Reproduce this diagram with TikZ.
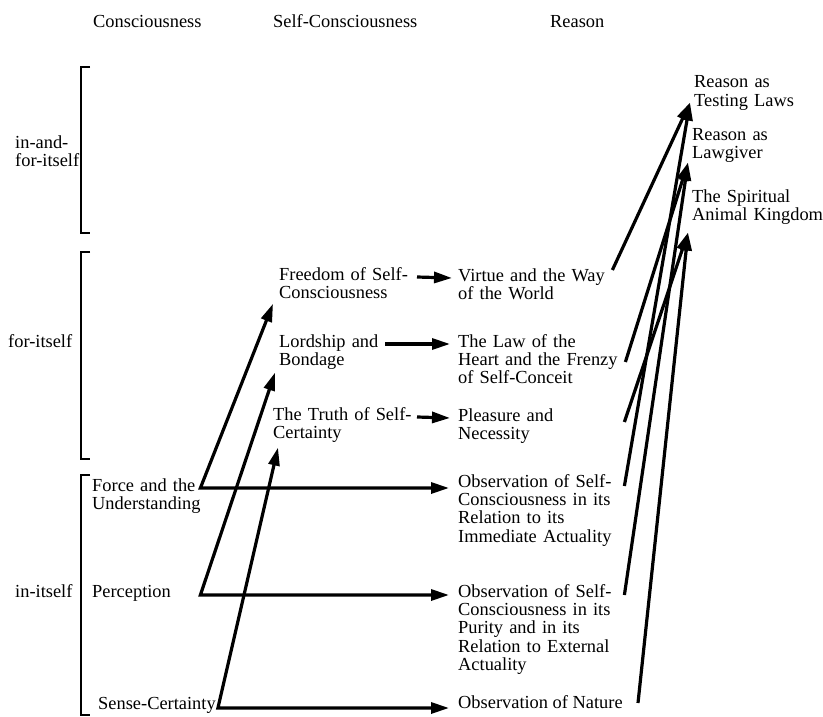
\documentclass[tikz,border=0pt]{standalone}
\usepackage{fontspec}
\setmainfont{Liberation Serif}
\usetikzlibrary{arrows.meta}
\tikzset{
  txt/.style={anchor=base west,inner sep=0pt,align=left,font=\fontsize{18.4}{18.4}\selectfont},
  arr/.style={line width=3.2pt,-{Triangle[length=18pt,width=11pt]}},
  twoarr/.style={line width=3.2pt,{Triangle[length=18pt,width=11pt]}-{Triangle[length=18pt,width=11pt]}},
  brk/.style={line width=2pt}
}
\begin{document}
\begin{tikzpicture}[x=1pt,y=-1pt]
\useasboundingbox (0,0) rectangle (823,717);
% column heads
\node[txt] (hcon) at (93,28) {Consciousness};
\node[txt] (hself) at (273,28) {Self-Consciousness};
\node[txt] (hreas) at (550,28) {Reason};
% brackets
\node[txt,text width=70pt] (inandfor) at (15,148) {in-and-\\for-itself};
\node[txt] (foritself) at (8,347) {for-itself};
\node[txt] (initself) at (15,597) {in-itself};
\draw[brk] (90,67) -- (81,67) -- (81,233) -- (90,233);
\draw[brk] (90,252) -- (81,252) -- (81,459) -- (90,459);
\draw[brk] (90,475) -- (81,475) -- (81,715) -- (90,715);
% consciousness
\node[txt,text width=108pt] (force) at (92,491) {Force and the\\Understanding};
\node[txt,text width=108pt] (perc) at (92,597) {Perception};
\node[txt] (sense) at (98,709) {Sense-Certainty};
% self-consciousness
\node[txt,text width=150pt] (freedom) at (279,280) {Freedom of Self-\\Consciousness};
\node[txt,text width=150pt] (lordship) at (279,347) {Lordship and\\Bondage};
\node[txt,text width=160pt] (truth) at (273,420) {The Truth of Self-\\Certainty};
% reason
\node[txt,text width=166pt] (virtue) at (458,281) {Virtue and the Way\\of the World};
\node[txt,text width=166pt] (law) at (458,347) {The Law of the\\Heart and the Frenzy\\of Self-Conceit};
\node[txt,text width=166pt] (pleasure) at (458,421) {Pleasure and\\Necessity};
\node[txt,text width=166pt] (obsimm) at (458,487) {Observation of Self-\\Consciousness in its\\Relation to its\\Immediate Actuality};
\node[txt,text width=166pt] (obspur) at (458,597) {Observation of Self-\\Consciousness in its\\Purity and in its\\Relation to External\\Actuality};
\node[txt] (obsnat) at (458,708) {Observation of Nature};
\node[txt,text width=150pt] (testing) at (694,88) {Reason as\\Testing Laws};
\node[txt,text width=150pt] (lawgiver) at (692,140) {Reason as\\Lawgiver};
\node[txt,text width=150pt] (spiritual) at (692,202) {The Spiritual\\Animal Kingdom};
% corners
\coordinate (fc) at ([yshift=3pt]force.base east);
\coordinate (pc) at ([yshift=2pt]perc.base east);
\coordinate (sc) at ([xshift=2pt,yshift=1pt]sense.base east);
\draw[twoarr] ([xshift=-6pt,yshift=-5pt]freedom.south west) -- (fc) -- ([xshift=-9pt]fc -| obsimm.west);
\draw[twoarr] ([xshift=-4pt,yshift=-3pt]lordship.south west) -- (pc) -- ([xshift=-9pt]pc -| obspur.west);
\draw[twoarr] ([xshift=5pt,yshift=-5pt]truth.south west) -- (sc) -- ([xshift=-9pt]sc -| obsnat.west);
\draw[arr] ([xshift=138pt,yshift=3pt]freedom.base west) -- ([xshift=-6pt,yshift=3pt]virtue.base west);
\draw[arr] ([xshift=106pt,yshift=3pt]lordship.base west) -- ([xshift=-8pt,yshift=3pt]law.base west);
\draw[arr] ([xshift=144pt,yshift=3pt]truth.base west) -- ([xshift=-8pt,yshift=3pt]pleasure.base west);
% into the last column
\draw[arr] ([xshift=-12pt,yshift=11pt]virtue.base east) -- ([xshift=-4pt,yshift=8pt]testing.south west);
\draw[arr] ([yshift=1pt]obsimm.base east) -- ([xshift=-4pt,yshift=8pt]testing.south west);
\draw[arr] ([xshift=1pt,yshift=-15pt]law.base east) -- ([xshift=-4pt]lawgiver.south west);
\draw[arr] ([yshift=2pt]obspur.base east) -- ([xshift=-4pt]lawgiver.south west);
\draw[arr] ([yshift=-1pt]pleasure.base east) -- ([xshift=-4pt,yshift=-8pt]spiritual.south west);
\draw[arr] ([xshift=180pt,yshift=5pt]obsnat.base west) -- ([xshift=-4pt,yshift=-8pt]spiritual.south west);
\end{tikzpicture}
\end{document}
